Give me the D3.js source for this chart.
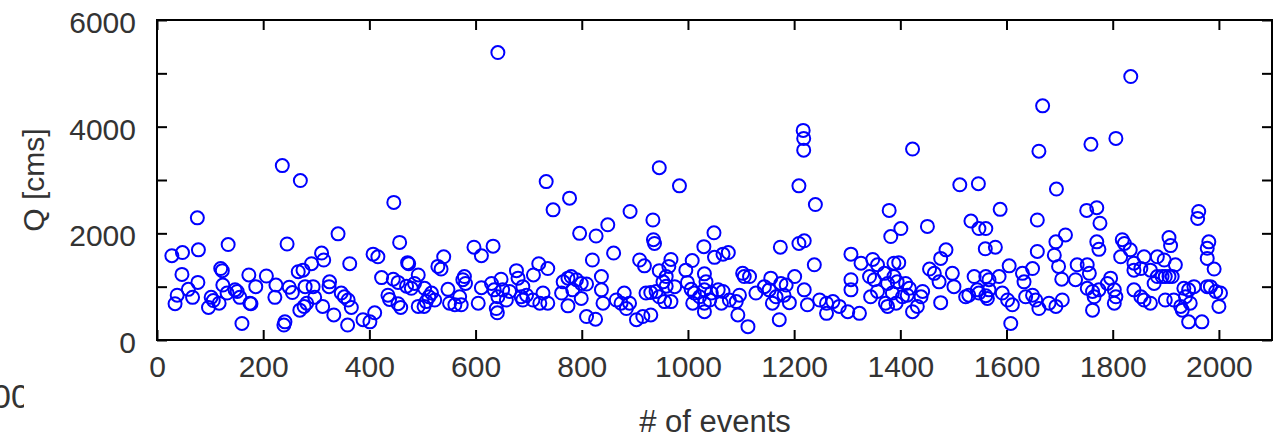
<!DOCTYPE html>
<html>
<head>
<meta charset="utf-8">
<script src="https://cdn.jsdelivr.net/npm/d3@7"></script>
<style>
  html, body { margin: 0; padding: 0; background: #fff; }
  svg { display: block; }
</style>
</head>
<body>
<svg id="chart" width="1276" height="438"></svg>
<script>
// Event number of each flood event
const eventNo = [
  28,34,38,47,48,59,67,76,77,78,97,102,106,117,120,123,124,132,134,147,151,156,160,173,175,177,186,206,222,224,
  236,239,241,245,249,255,266,269,270,275,277,279,282,291,294,297,310,312,314,324,325,333,341,
  347,353,359,360,363,366,388,401,407,410,416,423,435,438,445,446,454,454,457,459,470,472,474,479,485,492,492,
  503,504,507,512,517,523,529,535,540,548,551,561,570,573,576,579,581,597,605,611,611,630,633,635,639,641,642,642,
  648,651,658,664,677,680,686,689,
  689,696,708,709,719,721,727,733,736,736,746,762,765,774,774,777,780,783,790,796,799,799,809,809,820,826,827,
  837,837,840,849,860,865,874,880,884,890,891,903,909,915,918,921,930,930,934,935,937,940,946,946,946,953,956,
  959,959,964,968,968,975,984,996,999,1006,1008,1009,1012,1022,1030,1031,1031,1031,1034,1041,
  1031,1044,1049,1050,1057,1063,1066,1066,1076,1078,1091,1094,1097,1103,1106,1113,1116,1128,1144,1153,1156,1159,
  1166,1172,1174,1175,1181,1185,1191,1201,1209,1209,1217,1218,1218,1219,1219,1225,1238,1240,1248,1261,1261,1273,
  1285,1301,1307,1307,1307,1323,1326,1342,1344,1348,1351,1357,1357,1370,1372,1376,1376,1379,1382,1385,1388,
  1388,1392,1394,1397,1401,1404,1410,1413,1417,1423,1423,1432,1439,1442,1451,1455,1464,1473,1476,1476,1486,1498,
  1501,1512,1523,1529,1533,1539,1545,1547,1548,1548,1560,1561,1561,1561,1564,1567,1567,1579,1586,1588,1592,1602,
  1605,1608,1611,1630,1633,1636,1649,1649,1655,1658,1658,1661,1661,1668,1680,1690,1693,1693,1694,1698,1704,1705,
  1711,1730,1733,
  1751,1752,1752,1756,1759,1762,1762,1765,1770,1770,1774,1774,1776,1790,1796,1803,1803,1806,1806,1815,1818,1822,
  1833,1834,1840,1840,1840,1853,1853,1859,1859,1871,1871,1878,1884,1884,1893,1897,1899,1899,1906,1906,1909,1912,
  1915,1918,1928,1931,1934,1937,1943,1943,1946,1953,1960,1962,1968,1978,1978,1978,1981,1984,1991,1994,2000,2003
];

// Peak discharge of each event, cms
const flowCms = [
  1580,680,840,1230,1640,950,800,2290,1080,1690,610,800,740,690,1340,1300,1030,880,1790,940,910,800,310,1220,690,680,1000,1200,800,1030,
  3270,280,340,1800,990,890,1280,560,2990,1310,630,1000,690,1430,1000,800,1630,630,1500,1000,1090,470,1990,
  880,810,280,750,1430,610,380,340,1610,510,1560,1170,840,760,1140,2580,1080,680,1830,610,1010,1450,1430,970,1060,1220,630,
  630,970,720,810,880,750,1380,1330,1560,950,690,660,810,660,1130,1190,1060,1740,690,1580,980,1060,1760,940,590,510,5390,810,
  1140,940,750,910,1300,1160,810,750,
  1000,840,750,1220,1430,690,880,2970,1340,690,2440,880,1090,1160,640,2660,1190,940,1130,2000,1060,780,1050,440,1500,390,1950,
  1190,940,690,2160,1630,750,690,880,590,690,2410,380,1500,440,1390,880,470,890,2250,1880,1810,910,3230,1300,810,1090,720,
  1190,1010,1380,1510,720,1000,2890,1310,1080,950,1490,690,880,810,1750,1240,690,530,1090,750,
  940,880,2010,1550,940,690,1610,910,1640,750,720,470,840,1250,1190,250,1190,880,1000,940,1160,690,
  810,380,1740,1060,840,1030,700,1190,2890,1810,3930,3780,3560,1860,940,660,1410,2540,750,690,500,720,
  630,530,1610,940,1130,500,1440,1190,810,1510,1130,1410,910,1250,690,1060,630,2430,1940,880,1440,
  1190,690,1090,1450,2090,810,1060,840,970,3580,530,630,810,910,2130,1330,1250,1090,1530,700,1690,1250,
  1000,2910,810,840,2230,1190,940,2930,2090,880,1710,2090,1190,830,780,1130,940,1740,1190,2450,880,750,
  1390,310,660,1250,1090,810,1340,840,750,2250,1660,3540,590,4390,690,1590,1840,630,2830,1380,1140,750,
  1970,1130,1410,
  2430,1410,970,1250,3670,910,560,810,2480,1840,1700,940,2190,1060,1160,940,690,3780,810,1560,1880,1810,
  1690,4940,1310,1440,940,1340,810,1560,750,1310,690,1060,1560,1190,1190,1500,1190,750,1920,1190,1770,1190,
  750,1410,630,560,970,810,940,340,690,1000,2280,2410,340,1720,1530,1000,1840,1000,1330,910,630,880
];

const xTicks = [0, 200, 400, 600, 800, 1000, 1200, 1400, 1600, 1800, 2000];
const yTicks = [0, 1000, 2000, 3000, 4000, 5000, 6000];
const yTickLabels = [0, 2000, 4000, 6000];

const svg = d3.select('#chart');
const plotLeft = 157, plotRight = 1272, plotTop = 20, plotBottom = 340;
const textColor = '#333';
const fontFamily = 'Arial, "Liberation Sans", Helvetica, sans-serif';
const plain = d3.format('d');

const x = d3.scaleLinear().domain([0, 2100]).range([plotLeft, plotRight]);
const y = d3.scaleLinear().domain([0, 6000]).range([plotBottom, plotTop]);

// Scatter of events
const points = eventNo.map((e, i) => ({ e, q: flowCms[i] }));
svg.append('g')
  .selectAll('circle')
  .data(points)
  .join('circle')
  .attr('cx', d => x(d.e))
  .attr('cy', d => y(d.q))
  .attr('r', 6.5)
  .attr('fill', 'none')
  .attr('stroke', '#0000ff')
  .attr('stroke-width', 2);

function styleAxis(g) {
  g.select('.domain').remove();
  g.selectAll('.tick line').attr('stroke', '#000').attr('stroke-width', 2);
  g.selectAll('.tick text')
    .attr('fill', textColor)
    .style('font-family', fontFamily)
    .style('font-size', '30px');
}

// Bottom axis with labels, ticks pointing inward
svg.append('g')
  .attr('transform', `translate(0,${plotBottom})`)
  .call(d3.axisBottom(x).tickValues(xTicks).tickFormat(plain)
    .tickSizeInner(-10).tickSizeOuter(0).tickPadding(16))
  .call(styleAxis);

// Top axis: ticks only
svg.append('g')
  .attr('transform', `translate(0,${plotTop})`)
  .call(d3.axisTop(x).tickValues(xTicks).tickSizeInner(-10).tickSizeOuter(0).tickFormat(''))
  .call(styleAxis);

// Left axis, labelled every 2000
svg.append('g')
  .attr('transform', `translate(${plotLeft},0)`)
  .call(d3.axisLeft(y).tickValues(yTicks).tickSizeInner(-10).tickSizeOuter(0).tickPadding(21)
    .tickFormat(d => yTickLabels.includes(d) ? plain(d) : ''))
  .call(styleAxis)
  .call(g => g.selectAll('.tick text').attr('dy', '0.42em'));

// Right axis: ticks only
svg.append('g')
  .attr('transform', `translate(${plotRight},0)`)
  .call(d3.axisRight(y).tickValues(yTicks).tickSizeInner(-10).tickSizeOuter(0).tickFormat(''))
  .call(styleAxis);

// Plot frame
svg.append('rect')
  .attr('x', plotLeft).attr('y', plotTop)
  .attr('width', plotRight - plotLeft).attr('height', plotBottom - plotTop)
  .attr('fill', 'none')
  .attr('stroke', '#000')
  .attr('stroke-width', 2);

// Axis titles
svg.append('text')
  .attr('x', 715)
  .attr('y', 432)
  .attr('text-anchor', 'middle')
  .attr('fill', textColor)
  .style('font-family', fontFamily)
  .style('font-size', '31px')
  .text('# of events');

svg.append('text')
  .attr('transform', `translate(44,${(plotTop + plotBottom) / 2}) rotate(-90)`)
  .attr('text-anchor', 'middle')
  .attr('fill', textColor)
  .style('font-family', fontFamily)
  .style('font-size', '30px')
  .text('Q [cms]');

// Stray label fragment at the lower-left edge
svg.append('clipPath').attr('id', 'edgeClip')
  .append('rect').attr('x', 0).attr('y', 370).attr('width', 24).attr('height', 60);
svg.append('text')
  .attr('clip-path', 'url(#edgeClip)')
  .attr('x', -8)
  .attr('y', 408)
  .attr('fill', textColor)
  .style('font-family', fontFamily)
  .style('font-size', '34px')
  .text('00');
</script>
</body>
</html>
